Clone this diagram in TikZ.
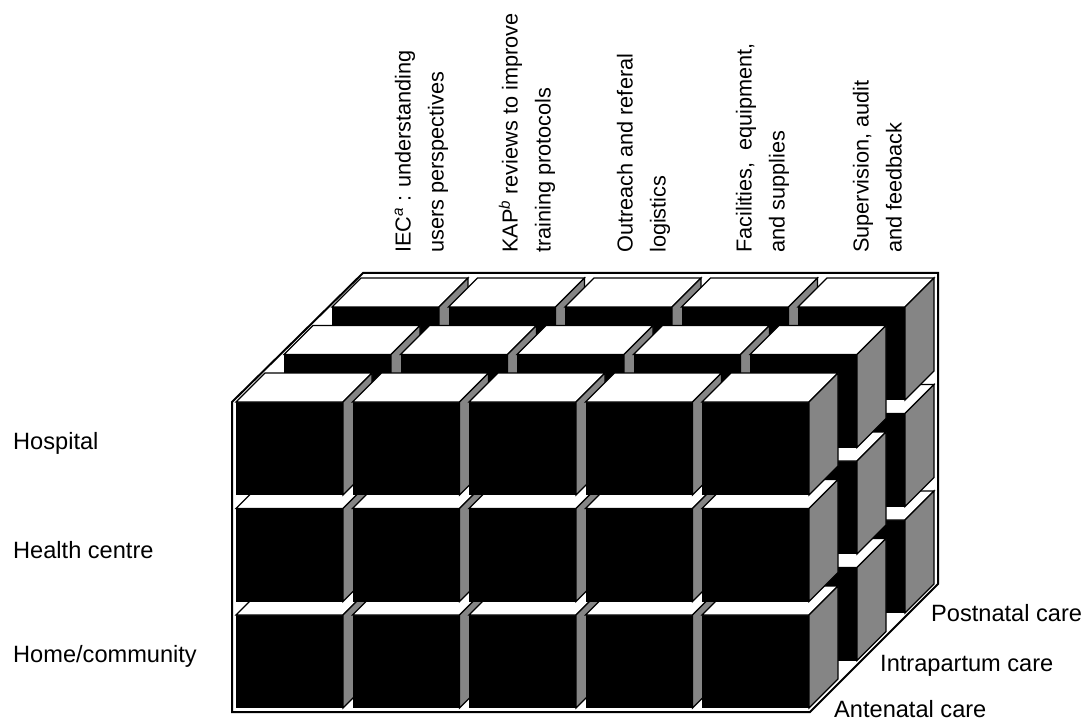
\documentclass[tikz,border=0pt]{standalone}
\usepackage{fontspec}
\setmainfont{Liberation Sans}
\tikzset{
  frontface/.style={fill=black},
  topface/.style={fill=white, draw=black, line width=1.2pt, line join=miter},
  sideface/.style={fill=black!48, draw=black, line width=1.2pt, line join=miter},
  frameline/.style={draw=black, line width=2pt, line join=miter},
  collab/.style={rotate=90, anchor=base west, inner sep=0pt, font=\fontsize{21.7}{26}\selectfont},
  rowlab/.style={anchor=base west, inner sep=0pt, font=\fontsize{23.6}{28}\selectfont}
}
\begin{document}
\begin{tikzpicture}[x=1pt,y=-1pt]
\useasboundingbox (0,0) rectangle (1088,722);
% cubes: layers back (2) to front (0), rows bottom to top, columns left to right
\foreach \l in {2,1,0} {
  \foreach \r in {2,1,0} {
    \foreach \c in {0,...,4} {
      \pgfmathsetmacro\xa{236+\c*116.5+\l*48}
      \pgfmathsetmacro\ya{402+\r*106.5-\l*47.5}
      \fill[frontface] (\xa,\ya) rectangle ++(107,93);
      \path[topface] (\xa,\ya) -- ++(29,-29) -- ++(107,0) -- ++(-29,29) -- cycle;
      \path[sideface] (\xa+107,\ya) -- ++(29,-29) -- ++(0,93) -- ++(-29,29) -- cycle;
    }
  }
}
% outer frame
\path[frameline] (232,402) -- (232,712) -- (810,712) -- (938,584) -- (938,273) -- (363,273) -- cycle;
% column labels
\node[collab] (c1a) at (410.5,253) {IEC\textsuperscript{\itshape a} : understanding};
\node[collab] (c1b) at (443.5,253) {users perspectives};
\node[collab] (c2a) at (517.5,253) {KAP\textsuperscript{\itshape b} reviews to improve};
\node[collab] (c2b) at (550.5,253) {training protocols};
\node[collab] (c3a) at (632.5,253) {Outreach and referal};
\node[collab] (c3b) at (665.5,253) {logistics};
\node[collab] (c4a) at (751.5,253) {Facilities, \ equipment,};
\node[collab] (c4b) at (784.5,253) {and supplies};
\node[collab] (c5a) at (868.5,253) {Supervision, audit};
\node[collab] (c5b) at (901.5,253) {and feedback};
% row labels
\node[rowlab] (hosp) at (13,449) {Hospital};
\node[rowlab] (hc) at (13,558) {Health centre};
\node[rowlab] (home) at (13,662) {Home/community};
% depth labels
\node[rowlab] (post) at (931,621) {Postnatal care};
\node[rowlab] (intra) at (880,671) {Intrapartum care};
\node[rowlab] (ante) at (834,717) {Antenatal care};
\end{tikzpicture}
\end{document}
